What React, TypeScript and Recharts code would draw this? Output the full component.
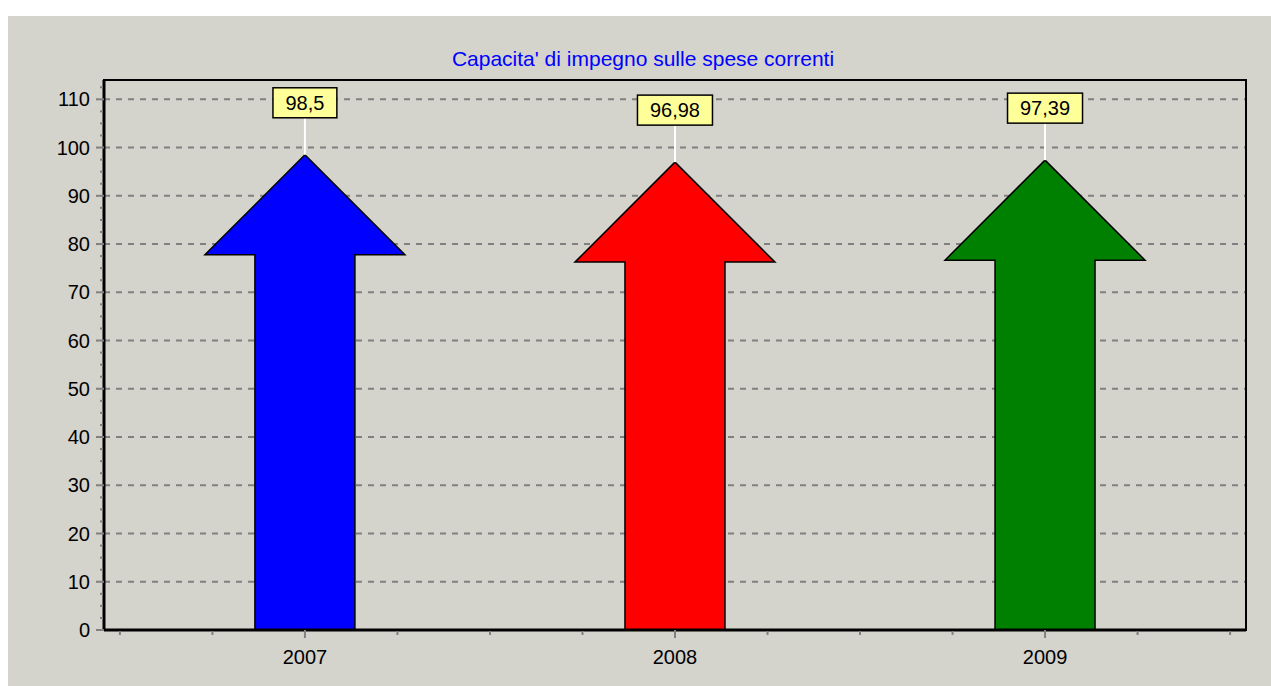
import React from "react";
import {
  ComposedChart,
  Bar,
  XAxis,
  YAxis,
  CartesianGrid,
  LabelList,
  ReferenceArea,
} from "recharts";

const years = [2007, 2008, 2009];
const values = [98.5, 96.98, 97.39];
const valueLabels = ["98,5", "96,98", "97,39"];
const arrowColors = ["#0000ff", "#ff0000", "#008000"];

const yMajorTicks = [0, 10, 20, 30, 40, 50, 60, 70, 80, 90, 100, 110];
const yMinorTicks = Array.from({ length: 46 }, (_, i) => i * 2.5);
const xTicks = [
  2006.5, 2006.75, 2007, 2007.25, 2007.5, 2007.75, 2008, 2008.25, 2008.5,
  2008.75, 2009, 2009.25, 2009.5,
];

const data = years.map((year, i) => ({
  year,
  value: values[i],
  label: valueLabels[i],
  color: arrowColors[i],
}));

const FONT = "'Liberation Sans', Arial, sans-serif";
const PANEL = "#d4d3cc";
const GRID = "#808080";

const X_DOMAIN: [number, number] = [2006.457, 2009.543];
const Y_DOMAIN: [number, number] = [0, 114];

// arrow: head is the full bar width, body half of it
const ArrowShape = (props: any) => {
  const { x, y, width, height, payload } = props;
  const cx = x + width / 2;
  const half = width / 2;
  const body = width / 4;
  const headH = width / 2;
  const bottom = y + height;
  const d = [
    `M ${cx} ${y}`,
    `L ${cx + half} ${y + headH}`,
    `L ${cx + body} ${y + headH}`,
    `L ${cx + body} ${bottom}`,
    `L ${cx - body} ${bottom}`,
    `L ${cx - body} ${y + headH}`,
    `L ${cx - half} ${y + headH}`,
    "Z",
  ].join(" ");
  return <path d={d} fill={payload.color} stroke="#000" strokeWidth={1.5} />;
};

const ValueBox = (props: any) => {
  const { x, y, width, value } = props;
  const cx = x + width / 2;
  const text = String(value);
  let tw = 0;
  for (const ch of text) tw += ch === "," ? 5.6 : 11.1;
  const bw = tw + 25;
  const bh = 30;
  const gap = 37;
  return (
    <g>
      <line x1={cx} y1={y} x2={cx} y2={y - gap} stroke="#fff" strokeWidth={2} />
      <rect
        x={cx - bw / 2}
        y={y - gap - bh}
        width={bw}
        height={bh}
        fill="#ffff99"
        stroke="#000"
        strokeWidth={1.5}
      />
      <text
        x={cx}
        y={y - gap - bh / 2}
        dy="0.36em"
        textAnchor="middle"
        fontFamily={FONT}
        fontSize={20}
        fill="#000"
      >
        {text}
      </text>
    </g>
  );
};

const YTick = (props: any) => {
  const { x, y, payload } = props;
  const v = payload.value;
  if (v % 10 === 0) {
    return (
      <g>
        <line x1={x - 8} y1={y} x2={x} y2={y} stroke={GRID} strokeWidth={2} />
        <text
          x={x - 14}
          y={y}
          dy="0.36em"
          textAnchor="end"
          fontFamily={FONT}
          fontSize={20}
          fill="#000"
        >
          {v}
        </text>
      </g>
    );
  }
  return <line x1={x - 4} y1={y} x2={x - 1} y2={y} stroke={GRID} strokeWidth={2} />;
};

const XTick = (props: any) => {
  const { x, y, payload } = props;
  const v = payload.value;
  if (Number.isInteger(v)) {
    return (
      <g>
        <line x1={x} y1={y} x2={x} y2={y + 8} stroke={GRID} strokeWidth={2} />
        <text
          x={x}
          y={y + 34}
          textAnchor="middle"
          fontFamily={FONT}
          fontSize={20}
          fill="#000"
        >
          {v}
        </text>
      </g>
    );
  }
  return <line x1={x} y1={y + 1} x2={x} y2={y + 5} stroke={GRID} strokeWidth={2} />;
};

export default function App() {
  return (
    <div
      style={{
        position: "absolute",
        left: 8,
        top: 16,
        width: 1263,
        height: 670,
        background: PANEL,
      }}
    >
      <svg
        width={1263}
        height={70}
        style={{ position: "absolute", left: 0, top: 0 }}
      >
        <text
          x={635}
          y={50}
          textAnchor="middle"
          fontFamily={FONT}
          fontSize={21}
          fill="#0000ff"
        >
          Capacita' di impegno sulle spese correnti
        </text>
      </svg>
      <div style={{ position: "absolute", left: 0, top: 0 }}>
        <ComposedChart
          width={1263}
          height={670}
          data={data}
          margin={{ top: 64, right: 25, bottom: 16, left: 0 }}
        >
          <CartesianGrid
            vertical={false}
            horizontalValues={yMajorTicks}
            stroke={GRID}
            strokeWidth={2}
            strokeDasharray="6 6"
          />
          <ReferenceArea
            x1={X_DOMAIN[0]}
            x2={X_DOMAIN[1]}
            y1={Y_DOMAIN[0]}
            y2={Y_DOMAIN[1]}
            fill="none"
            fillOpacity={0}
            stroke="#000"
            strokeWidth={2}
            ifOverflow="visible"
          />
          <XAxis
            dataKey="year"
            type="number"
            domain={X_DOMAIN}
            ticks={xTicks}
            interval={0}
            height={40}
            tickSize={0}
            tickMargin={0}
            tickLine={false}
            tick={<XTick />}
            axisLine={{ stroke: "#000", strokeWidth: 3 }}
          />
          <YAxis
            type="number"
            domain={Y_DOMAIN}
            ticks={yMinorTicks}
            interval={0}
            width={96}
            tickSize={0}
            tickMargin={0}
            tickLine={false}
            tick={<YTick />}
            axisLine={{ stroke: "#000", strokeWidth: 3 }}
          />
          <Bar
            dataKey="value"
            barSize={200}
            shape={<ArrowShape />}
            isAnimationActive={false}
          >
            <LabelList dataKey="label" content={<ValueBox />} />
          </Bar>
        </ComposedChart>
      </div>
    </div>
  );
}
